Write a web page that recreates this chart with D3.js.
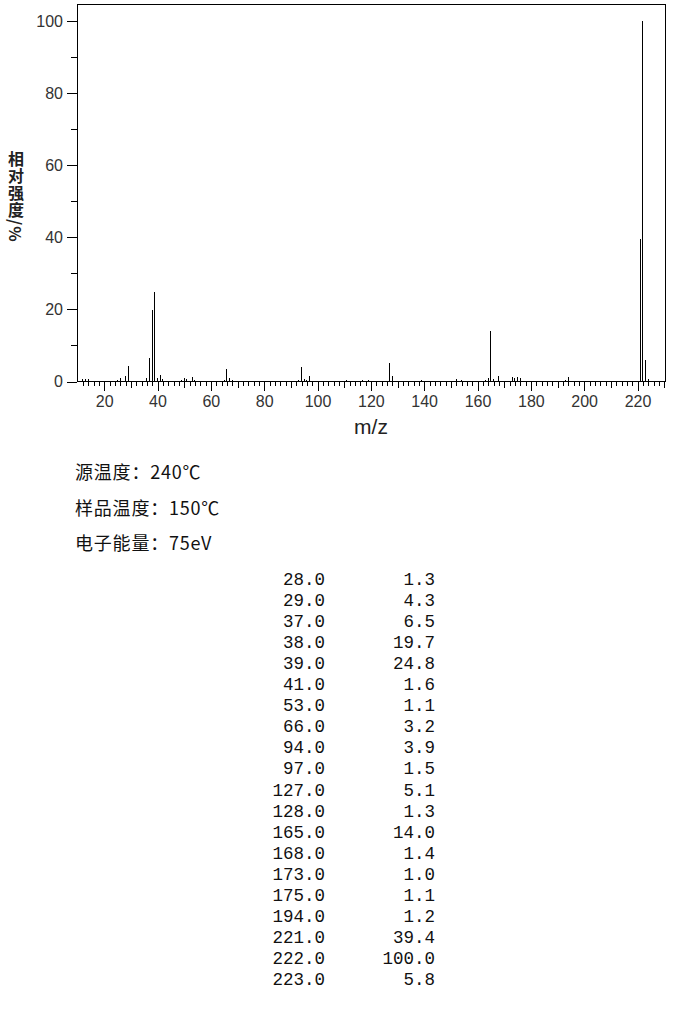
<!DOCTYPE html>
<html><head><meta charset="utf-8">
<script src="https://cdn.jsdelivr.net/npm/d3@7"></script>
<style>html,body{margin:0;padding:0;background:#fff;}svg{display:block;}</style>
</head><body>
<svg id="c" width="680" height="1020"></svg>
<script>
// Spectrum peaks (m/z, relative intensity %)
const peakMz  = [12,13,14,25,26,28,29,36,37,38,39,40,41,42,49,50,51,53,54,65,66,67,68,93,94,95,96,97,111,117,119,127,128,139,152,154,163,164,165,166,168,173,174,175,176,193,194,221,222,223,224];
const peakInt = [0.5,0.5,0.5,0.4,0.8,1.3,4.3,0.8,6.5,19.7,24.8,0.9,1.6,0.5,0.4,0.9,0.5,1.1,0.3,0.4,3.2,0.7,0.4,0.4,3.9,0.6,0.4,1.5,0.3,0.3,0.3,5.1,1.3,0.3,0.6,0.3,0.3,0.8,14.0,0.5,1.4,1.0,0.8,1.1,0.8,0.3,1.2,39.4,100.0,5.8,0.5];
// Peak table
const tableMz  = ["28.0","29.0","37.0","38.0","39.0","41.0","53.0","66.0","94.0","97.0","127.0","128.0","165.0","168.0","173.0","175.0","194.0","221.0","222.0","223.0"];
const tableInt = ["1.3","4.3","6.5","19.7","24.8","1.6","1.1","3.2","3.9","1.5","5.1","1.3","14.0","1.4","1.0","1.1","1.2","39.4","100.0","5.8"];
// Conditions
const infoLines = ["源温度：240℃","样品温度：150℃","电子能量：75eV"];
// Axis ticks
const yMajor = [0,20,40,60,80,100];
const yMinor = [10,30,50,70,90];
const xMajor = [20,40,60,80,100,120,140,160,180,200,220];
const xMid   = [30,50,70,90,110,130,150,170,190,210,230];
const xMinor = d3.range(10,231,2).filter(v => v % 10 !== 0);
const yTitle = "相对强度/%";

const svg = d3.select("#c");
const L = 77, R = 665, T = 4, B = 381;
const x = d3.scaleLinear().domain([10, 230.5]).range([L, R]);
const y = d3.scaleLinear().domain([0, 104.72]).range([B, T]);

const tickFont = "'Liberation Sans', Arial, sans-serif";

function xAxis(vals, size, labels) {
  const g = svg.append("g").attr("transform", `translate(0.5,${B})`)
    .call(d3.axisBottom(x).tickValues(vals).tickSize(size).tickPadding(5)
      .tickFormat(labels ? d3.format("d") : () => ""));
  g.select(".domain").remove();
  g.selectAll("line").attr("stroke", "#000").attr("shape-rendering", "crispEdges");
  g.selectAll("text").attr("font-family", tickFont).attr("font-size", 16).attr("fill", "#333");
  return g;
}
xAxis(xMinor, 5, false);
xAxis(xMid, 7, false);
xAxis(xMajor, 10, true);

function yAxis(vals, size, labels) {
  const g = svg.append("g").attr("transform", `translate(${L},0.5)`)
    .call(d3.axisLeft(y).tickValues(vals).tickSize(size).tickPadding(4)
      .tickFormat(labels ? d3.format("d") : () => ""));
  g.select(".domain").remove();
  g.selectAll("line").attr("stroke", "#000").attr("shape-rendering", "crispEdges");
  g.selectAll("text").attr("font-family", tickFont).attr("font-size", 16).attr("fill", "#333");
  return g;
}
yAxis(yMinor, 6, false);
yAxis(yMajor, 10, true);

// frame
svg.append("path")
  .attr("d", `M${L+0.5},${B+0.5}V${T+0.5}H${R+0.5}V${B+0.5}H${L+0.5}`)
  .attr("fill", "none").attr("stroke", "#000").attr("stroke-width", 1)
  .attr("shape-rendering", "crispEdges");

// peaks
svg.append("g").selectAll("line").data(peakMz.map((m, i) => [m, peakInt[i]])).join("line")
  .attr("x1", d => Math.round(x(d[0])) + 0.5).attr("x2", d => Math.round(x(d[0])) + 0.5)
  .attr("y1", y(0)).attr("y2", d => y(d[1]))
  .attr("stroke", "#000").attr("stroke-width", 1).attr("shape-rendering", "crispEdges");

// y title, vertical writing
svg.append("text").attr("x", 16).attr("y", 151)
  .style("writing-mode", "vertical-rl")
  .attr("font-family", "'Noto Sans CJK SC', sans-serif").attr("font-size", 16).attr("font-weight", "bold")
  .attr("letter-spacing", 1).attr("fill", "#222").text(yTitle);

// x label
svg.append("text").attr("x", 371).attr("y", 434).attr("text-anchor", "middle")
  .attr("font-family", tickFont).attr("font-size", 21).attr("fill", "#222").text("m/z");

// info lines
svg.append("g").selectAll("text").data(infoLines).join("text")
  .attr("x", 75).attr("y", (d, i) => 479 + i * 35.5)
  .attr("font-family", "'Noto Sans CJK SC', sans-serif").attr("font-size", 18).attr("letter-spacing", 0.8).attr("fill", "#111")
  .text(d => d);

// table
const tg = svg.append("g").attr("font-family", "'Liberation Mono', 'Courier New', monospace").attr("font-size", 17.5).attr("fill", "#111");
tg.selectAll("text.mz").data(tableMz).join("text").attr("class", "mz")
  .attr("x", 325).attr("y", (d, i) => 585 + i * 21.05).attr("text-anchor", "end").text(d => d);
tg.selectAll("text.in").data(tableInt).join("text").attr("class", "in")
  .attr("x", 435).attr("y", (d, i) => 585 + i * 21.05).attr("text-anchor", "end").text(d => d);
</script>
</body></html>
